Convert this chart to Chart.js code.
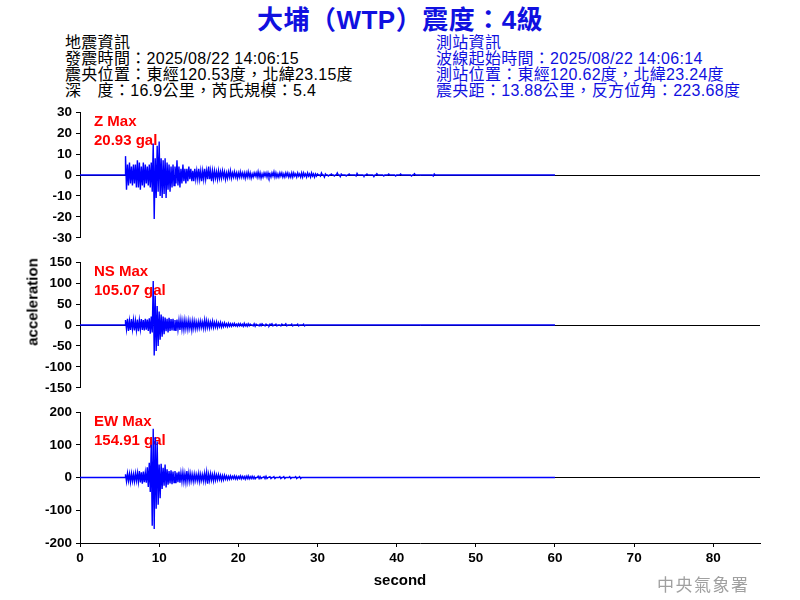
<!DOCTYPE html>
<html>
<head>
<meta charset="utf-8">
<script src="https://cdn.jsdelivr.net/npm/chart.js@4.4.1/dist/chart.umd.min.js"></script>
<style>
  body { margin: 0; width: 800px; height: 600px; position: relative; background: #fff; overflow: hidden;
         font-family: "Liberation Sans", Arial, "Noto Sans CJK TC", sans-serif; }
  .panel { position: absolute; left: 0; width: 800px; }
  #title { position: absolute; left: 0; top: -1px; width: 800px; text-align: center; color: #1010e0;
           font-size: 26px; font-weight: bold; letter-spacing: 0.5px; }
  .info { position: absolute; top: 35px; font-size: 16px; line-height: 16px; white-space: pre; letter-spacing: 0.3px; }
  #infoL { left: 65px; color: #000; }
  #infoR { left: 436px; color: #1010e0; }
  #ylab { position: absolute; left: 32px; top: 302px; transform: translate(-50%, -50%) rotate(-90deg);
          font-size: 15px; font-weight: bold; white-space: nowrap; }
  #xlab { position: absolute; left: 0; width: 800px; top: 571px; text-align: center; font-size: 15px; font-weight: bold; }
  #cwa { position: absolute; left: 657px; top: 571px; font-size: 17px; color: #a0a0a0; letter-spacing: 1.5px;
         font-family: "Noto Sans CJK TC", sans-serif; }
</style>
</head>
<body>
<div id="title">大埔（WTP）震度：4級</div>
<div class="info" id="infoL">地震資訊
發震時間：2025/08/22 14:06:15
震央位置：東經120.53度，北緯23.15度
深　度：16.9公里，芮氏規模：5.4</div>
<div class="info" id="infoR">測站資訊
波線起始時間：2025/08/22 14:06:14
測站位置：東經120.62度，北緯23.24度
震央距：13.88公里，反方位角：223.68度</div>

<div class="panel" style="top:100px;height:150px"><canvas id="cZ"></canvas></div>
<div class="panel" style="top:250px;height:150px"><canvas id="cNS"></canvas></div>
<div class="panel" style="top:400px;height:200px"><canvas id="cEW"></canvas></div>

<div id="ylab">acceleration</div>
<div id="xlab">second</div>
<div id="cwa">中央氣象署</div>

<script>
// time of first window, width of each window (s), end of record
const t0 = 5.75;
const dt = 0.25;
const recordEnd = 60;
const xMax = 85.9;

// peak values per 0.25 s window (gal)
const zHi = [9,5,6,4,5,5,7,6,4,6,5,4,5,6,15,8,14,16,8,7,8,6,5,4,5,4,7,4,3,5,3,3,4,3,2,3,2,3,2,2,3,2,4,2,2,2,1.5,2,1.5,2,1.5,1,1.5,2,1,1.5,1,1,1.5,1,1,
  1,1.5,1,0.5,1,1,1.5,1,0.5,1,1,1,0.5,1,1.5,1,0.5,1,1,0.5,1,1,0.5,1,1,0.5,1,0.5,1,1,0.5,1,0.5,1,0.5,0.5,
  0.5,0,1,0,0.5,0,0,0.5,0,0,1,0,0.5,0,0,0,0.5,0,0,0,0.8,0,0,0,0,0.5,0,0,0,0,0.6,0,0,0,0,0,0.5,0,0,0,0,0,0.5,0,0,0,0,0,0,0.6,0,0,0,0,0,0,0,0,0,0.5,0,0,0,0];
const zLo = [-7,-5,-4,-5,-4,-6,-6,-7,-5,-6,-4,-5,-6,-8,-21,-11,-8,-10,-11,-9,-11,-7,-8,-6,-5,-4,-5,-6,-4,-3,-4,-3,-2,-3,-3,-2,-2,-2,-3,-2,-2,-2,-2,-3,-2,-1.5,-2,-1.5,-1.5,-1,-2,-1.5,-1,-1.5,-1,-1,-1.5,-1,-1,-1,-1.5,
  -1,-1,-1.5,-1,-0.5,-1,-1,-1.5,-1,-0.5,-1,-1,-1,-0.5,-1,-1,-1,-0.5,-1,-1,-0.5,-1,-1,-1,-0.5,-1,-0.5,-1,-1,-0.5,-1,-0.5,-1,-0.5,-1,-0.5,
  0,-0.5,0,-1,0,-0.5,0,0,-0.5,0,0,-0.8,0,0,-0.5,0,0,0,0,-0.5,0,0,0,-0.5,0,0,0,0,-0.8,0,0,0,0,-0.5,0,0,0,0,0,-0.5,0,0,0,0,0,0,0,-0.5,0,0,0,0,0,0,0,0,0,0,-0.5,0,0,0,0,0];

const nsHi = [12,15,10,14,12,10,13,11,14,12,15,13,16,20,105,70,45,32,25,20,18,15,17,14,15,12,13,11,12,10,12,9,11,8,10,9,7,8,9,7,12,10,8,7,9,6,7,5,6,4,5,3,4,3,3,4,2,3,
  3,2,4,2,3,2,0,3,2,0,2,3,0,2,0,2,3,0,2,0,0,2,0,3,0,0,2,0,0,2,0,0,2];
const nsLo = [-10,-14,-12,-10,-13,-12,-15,-10,-12,-13,-11,-14,-21,-18,-73,-62,-50,-35,-28,-22,-15,-18,-14,-13,-12,-14,-11,-12,-10,-11,-9,-10,-8,-12,-8,-9,-8,-7,-6,-8,-7,-6,-7,-5,-6,-5,-6,-4,-5,-4,-3,-4,-3,-3,-2,-2,-3,-2,
  -2,-3,-2,-3,-2,0,-2,-3,0,-2,-2,0,-2,0,-2,0,-2,0,-2,0,-2,0,0,-2,0,0,-2,0,0,-2,0,0,-2];

const ewHi = [10,13,11,12,10,13,14,20,16,18,15,31,45,100,149,124,110,40,42,30,40,25,20,22,18,20,15,18,14,16,12,20,14,12,10,11,9,12,10,9,13,16,10,12,9,11,8,9,7,6,7,5,4,5,4,
  5,4,3,5,4,3,4,5,3,4,3,0,4,3,0,3,4,0,3,0,3,0,0,3,0,3,0,0,3,0,0,3,0,3];
const ewLo = [-12,-10,-14,-11,-12,-10,-13,-15,-19,-14,-16,-29,-44,-147,-157,-95,-83,-63,-35,-25,-30,-22,-18,-20,-15,-17,-14,-16,-12,-13,-14,-11,-12,-10,-12,-9,-10,-12,-9,-11,-10,-19,-9,-8,-10,-8,-7,-6,-8,-7,-5,-6,-5,-4,-3,
  -4,-5,-3,-4,-3,-5,-3,-4,-3,-3,-4,0,-3,-3,0,-3,-3,0,-3,0,-3,0,0,-3,0,-3,0,0,-3,0,0,-3,0,-3];

const channels = ["Z", "NS", "EW"];
const maxGal = ["20.93", "105.07", "154.91"];
const yLimits = [30, 150, 200];
const ySteps = [10, 50, 100];

Chart.defaults.font.family = '"Liberation Sans", Arial, sans-serif';
Chart.defaults.color = "#000";

function trace(hi, lo) {
  const pts = [{ x: 0, y: 0 }, { x: t0, y: 0 }];
  hi.forEach((h, i) => {
    const t = t0 + i * dt;
    pts.push({ x: t, y: h });
    pts.push({ x: t + dt / 2, y: lo[i] ?? 0 });
  });
  pts.push({ x: t0 + hi.length * dt, y: 0 });
  pts.push({ x: recordEnd, y: 0 });
  return pts;
}

function makePanel(id, k, hi, lo, bottom) {
  const label = {
    id: "maxLabel",
    beforeDatasetsDraw(c) {
      const g = c.ctx, a = c.chartArea;
      g.save();
      g.fillStyle = "#ff0000";
      g.font = 'bold 15px "Liberation Sans", Arial, sans-serif';
      g.textBaseline = "middle";
      g.fillText(channels[k] + " Max", a.left + 14, a.top + 10);
      g.fillText(maxGal[k] + " gal", a.left + 14, a.top + 29);
      g.restore();
    }
  };
  return new Chart(document.getElementById(id), {
    type: "line",
    data: {
      datasets: [{
        data: trace(hi, lo),
        borderColor: "#0000ff",
        borderWidth: 1.4,
        pointRadius: 0,
        tension: 0,
        fill: false
      }]
    },
    options: {
      responsive: true,
      maintainAspectRatio: false,
      animation: false,
      layout: { padding: { top: 8, right: 40, bottom: bottom ? 0 : 7, left: 0 } },
      plugins: { legend: { display: false }, tooltip: { enabled: false } },
      scales: {
        x: {
          type: "linear",
          min: 0,
          max: xMax,
          display: bottom,
          afterFit: s => { if (bottom) s.height = 57; },
          border: { display: true, color: "#000", width: 1 },
          grid: { drawOnChartArea: false, color: "#000", tickColor: "#000", tickLength: 4 },
          ticks: { stepSize: 10, includeBounds: false, maxRotation: 0, padding: 3,
                   font: { size: 13.5, weight: "bold" } }
        },
        y: {
          min: -yLimits[k],
          max: yLimits[k],
          afterFit: s => { s.width = 80; },
          border: { display: true, color: "#000", width: 1 },
          grid: {
            color: c => (c.tick && c.tick.value === 0 ? "#000" : "rgba(0,0,0,0)"),
            tickColor: "#000",
            tickLength: 4
          },
          ticks: { stepSize: ySteps[k], autoSkip: false, padding: 4, font: { size: 13.5, weight: "bold" } }
        }
      }
    },
    plugins: [label]
  });
}

makePanel("cZ", 0, zHi, zLo, false);
makePanel("cNS", 1, nsHi, nsLo, false);
makePanel("cEW", 2, ewHi, ewLo, true);
</script>
</body>
</html>
